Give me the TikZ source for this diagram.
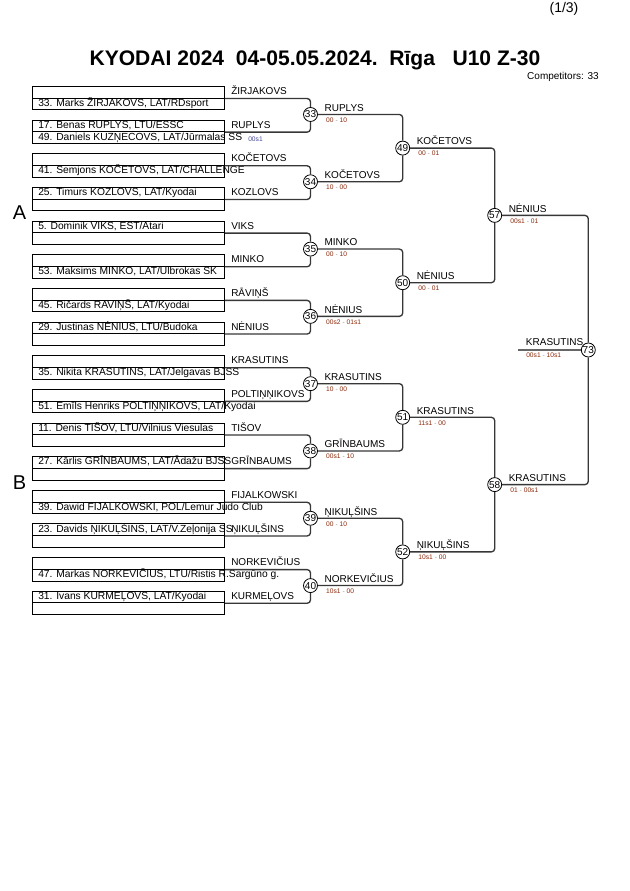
\documentclass[tikz,border=0pt]{standalone}
\usepackage{fontspec}
\setmainfont{Liberation Sans}
\definecolor{scorered}{RGB}{140,40,10}
\definecolor{scoreblue}{RGB}{70,70,150}
\definecolor{linegray}{RGB}{55,55,55}
\newcommand\pairbox[2]{%
  \pgfmathsetmacro\myt{86+33.65*#1}
  \node[rowbox] (ra#1) at (31.5,\myt) {};
  \node[rowbox] (rb#1) at (31.5,\myt+11.7) {};
  \node[lbl] (lab#1) at (231,\myt+8.7) {#2};
}
\newcommand\toptext[2]{\pgfmathsetmacro\myt{86+33.65*#1}\node[ctext] (ct#1) at (38,\myt+8.7) {#2};}
\newcommand\bottext[2]{\pgfmathsetmacro\myt{86+33.65*#1}\node[ctext] (cb#1) at (38,\myt+20.4) {#2};}
\newcommand\myscore[2]{#1\hspace{0.28em}\textcolor{black!45}{-}\hspace{0.28em}#2}
\newcommand\mywin[4]{%
  \node[lbl] (w#1) at ([xshift=10.35pt,yshift=2.4pt]c#1.center) {#2};
  \node[score] (s#1) at ([xshift=11.6pt,yshift=-4.1pt]c#1.center) {\myscore{#3}{#4}};
}
\begin{document}
\begin{tikzpicture}[x=0.75pt,y=-0.75pt,
  rowbox/.style={draw=black, line width=0.6pt, minimum width=144.4pt, minimum height=8.78pt, inner sep=0pt, anchor=north west},
  ctext/.style={font=\fontsize{7.7}{8}\selectfont, inner sep=0pt, anchor=base west},
  lbl/.style={font=\fontsize{7.5}{8}\selectfont, inner sep=0pt, anchor=base west},
  score/.style={font=\fontsize{5}{6}\selectfont, text=scorered, inner sep=0pt, anchor=west},
  bout/.style={circle, draw=black, fill=white, line width=0.6pt, minimum size=10.5pt, inner sep=0pt, font=\fontsize{7.5}{8}\selectfont},
  br/.style={draw=linegray, line width=1pt, rounded corners=2.5pt},
  brf/.style={draw=black!60, line width=1.1pt},
]
\path[use as bounding box] (0,0) rectangle (630,891);

% header
\node[font=\fontsize{10.5}{12}\selectfont, inner sep=0pt] (page) at (564,8.7) {(1/3)};
\node[font=\bfseries\fontsize{15.8}{18}\selectfont, inner sep=0pt, anchor=base] (title) at (315,66) {KYODAI 2024\hspace{0.556em}04-05.05.2024.\hspace{0.556em}Rīga\hspace{0.834em}U10 Z-30};
\node[font=\fontsize{7.5}{9}\selectfont, inner sep=0pt, anchor=base east] (comp) at (599,80) {Competitors: 33};
\node[font=\fontsize{15}{18}\selectfont, inner sep=0pt, anchor=base west] (poolA) at (12.5,219.3) {A};
\node[font=\fontsize{15}{18}\selectfont, inner sep=0pt, anchor=base west] (poolB) at (12.5,489.3) {B};

% competitor boxes
\pairbox{0}{ŽIRJAKOVS}
\pairbox{1}{RUPLYS}
\pairbox{2}{KOČETOVS}
\pairbox{3}{KOZLOVS}
\pairbox{4}{VIKS}
\pairbox{5}{MINKO}
\pairbox{6}{RĀVIŅŠ}
\pairbox{7}{NĖNIUS}
\pairbox{8}{KRASUTINS}
\pairbox{9}{POLTIŅŅIKOVS}
\pairbox{10}{TIŠOV}
\pairbox{11}{GRĪNBAUMS}
\pairbox{12}{FIJALKOWSKI}
\pairbox{13}{ŅIKUĻŠINS}
\pairbox{14}{NORKEVIČIUS}
\pairbox{15}{KURMEĻOVS}

\bottext{0}{33. Marks ŽIRJAKOVS, LAT/RDsport}
\toptext{1}{17. Benas RUPLYS, LTU/ESSC}
\bottext{1}{49. Daniels KUZŅECOVS, LAT/Jūrmalas SS}
\bottext{2}{41. Semjons KOČETOVS, LAT/CHALLENGE}
\toptext{3}{25. Timurs KOZLOVS, LAT/Kyodai}
\toptext{4}{5. Dominik VIKS, EST/Atari}
\bottext{5}{53. Maksims MINKO, LAT/Ulbrokas SK}
\bottext{6}{45. Ričards RAVIŅŠ, LAT/Kyodai}
\toptext{7}{29. Justinas NĖNIUS, LTU/Budoka}
\bottext{8}{35. Nikita KRASUTINS, LAT/Jelgavas BJSS}
\bottext{9}{51. Emīls Henriks POLTIŅŅIKOVS, LAT/Kyodai}
\toptext{10}{11. Denis TIŠOV, LTU/Vilnius Viesulas}
\toptext{11}{27. Kārlis GRĪNBAUMS, LAT/Ādažu BJSS}
\bottext{12}{39. Dawid FIJALKOWSKI, POL/Lemur Judo Club}
\toptext{13}{23. Davids ŅIKUĻŠINS, LAT/V.Zeļonija SS}
\bottext{14}{47. Markas NORKEVIČIUS, LTU/Ristis R.Sargūno g.}
\toptext{15}{31. Ivans KURMEĻOVS, LAT/Kyodai}

\node[font=\fontsize{5}{6}\selectfont, text=scoreblue, inner sep=0pt, anchor=west] (pre) at (248,139.5) {00s1};

% bout circles
\foreach \j/\n in {0/33,1/34,2/35,3/36,4/37,5/38,6/39,7/40}
  \node[bout] (c\n) at (310.5,114.475+67.3*\j) {\n};
\foreach \m/\n in {0/49,1/50,2/51,3/52}
  \node[bout] (c\n) at (402.7,148.1+134.6*\m) {\n};
\node[bout] (c57) at (494.7,215.4) {57};
\node[bout] (c58) at (494.7,484.6) {58};
\node[bout] (c73) at (588.3,350) {73};

% connectors
\foreach \k/\n in {0/33,1/33,2/34,3/34,4/35,5/35,6/36,7/36,8/37,9/37,10/38,11/38,12/39,13/39,14/40,15/40}
  \draw[br] (ra\k.south east) -| (c\n);
\foreach \a/\b in {33/49,34/49,35/50,36/50,37/51,38/51,39/52,40/52,49/57,50/57,51/58,52/58,57/73,58/73}
  \draw[br] (c\a) -| (c\b);
\coordinate (fin) at (518.3,350);
\draw[brf] (fin) -- (c73);

% winners and scores
\mywin{33}{RUPLYS}{00}{10}
\mywin{34}{KOČETOVS}{10}{00}
\mywin{35}{MINKO}{00}{10}
\mywin{36}{NĖNIUS}{00s2}{01s1}
\mywin{37}{KRASUTINS}{10}{00}
\mywin{38}{GRĪNBAUMS}{00s1}{10}
\mywin{39}{ŅIKUĻŠINS}{00}{10}
\mywin{40}{NORKEVIČIUS}{10s1}{00}
\mywin{49}{KOČETOVS}{00}{01}
\mywin{50}{NĖNIUS}{00}{01}
\mywin{51}{KRASUTINS}{11s1}{00}
\mywin{52}{ŅIKUĻŠINS}{10s1}{00}
\mywin{57}{NĖNIUS}{00s1}{01}
\mywin{58}{KRASUTINS}{01}{00s1}
\node[lbl] (w73) at (525.7,345) {KRASUTINS};
\node[score] (s73) at (526,355.7) {\myscore{00s1}{10s1}};
\end{tikzpicture}
\end{document}
